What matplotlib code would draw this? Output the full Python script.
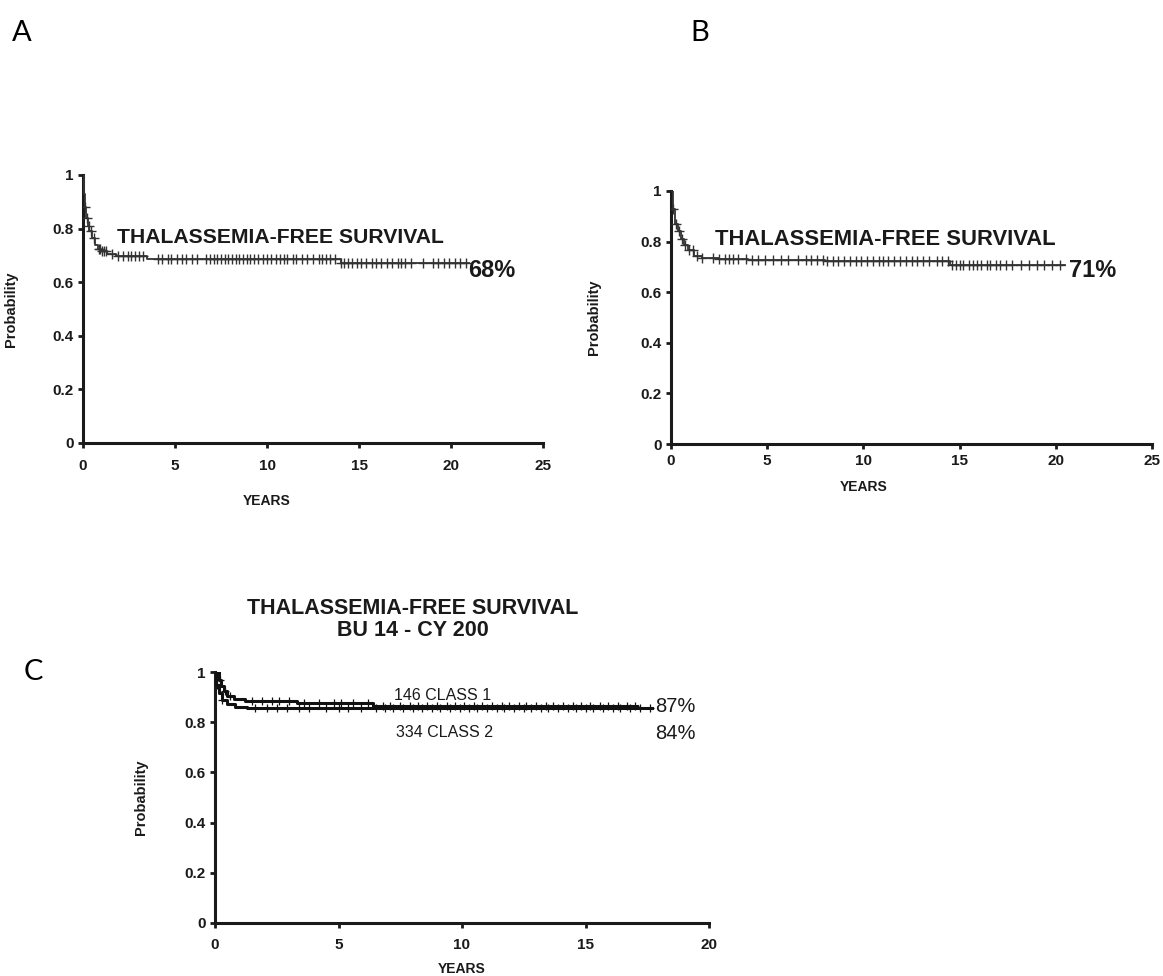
import matplotlib
matplotlib.use("Agg")
import matplotlib.pyplot as plt
import numpy as np

plt.rcParams['font.family'] = ['Liberation Sans', 'DejaVu Sans']

# ---------------- Data ----------------
# Panel A: thalassemia-free survival
A_time = [0, 0.05, 0.1, 0.15, 0.25, 0.35, 0.5, 0.65, 0.8, 1.0, 1.3, 1.8, 3.5, 14.0, 21.0]
A_surv = [1.0, 0.93, 0.88, 0.84, 0.81, 0.79, 0.765, 0.74, 0.725, 0.715, 0.705, 0.697, 0.686, 0.672, 0.672]
A_censor = [0.1, 0.2, 0.3, 0.45, 0.6, 0.85, 0.95, 1.05, 1.15, 1.25, 1.6, 1.9, 2.2, 2.45, 2.6,
            2.8, 3.05, 3.25, 4.1, 4.3, 4.6, 4.8, 5.1, 5.4, 5.6, 5.9, 6.2, 6.7, 6.9, 7.1, 7.3,
            7.5, 7.7, 7.9, 8.1, 8.3, 8.5, 8.7, 8.9, 9.1, 9.3, 9.5, 9.8, 10.0, 10.2, 10.5, 10.7,
            10.9, 11.1, 11.4, 11.6, 11.9, 12.2, 12.5, 12.8, 13.0, 13.2, 13.4, 13.7, 14.0, 14.2,
            14.4, 14.6, 14.9, 15.1, 15.4, 15.7, 15.9, 16.2, 16.5, 16.8, 17.1, 17.3, 17.5, 17.8,
            18.5, 19.0, 19.3, 19.6, 19.9, 20.2, 20.5, 20.8]
A_label = "68%"

# Panel B
B_time = [0, 0.08, 0.2, 0.35, 0.5, 0.7, 0.9, 1.2, 1.6, 2.5, 4.0, 8.0, 14.5, 20.5]
B_surv = [1.0, 0.93, 0.87, 0.84, 0.81, 0.785, 0.765, 0.745, 0.737, 0.73, 0.727, 0.722, 0.708, 0.708]
B_censor = [0.12, 0.25, 0.4, 0.55, 0.75, 0.95, 1.15, 1.35, 1.6, 2.2, 2.5, 2.8, 3.0, 3.2, 3.5,
            3.9, 4.2, 4.5, 4.9, 5.3, 5.7, 6.1, 6.6, 7.0, 7.3, 7.6, 7.9, 8.1, 8.4, 8.7, 9.0,
            9.3, 9.6, 9.9, 10.2, 10.5, 10.8, 11.0, 11.3, 11.6, 11.9, 12.2, 12.5, 12.8, 13.1,
            13.4, 13.8, 14.1, 14.4, 14.6, 14.8, 15.0, 15.2, 15.5, 15.7, 15.9, 16.1, 16.4,
            16.6, 16.9, 17.1, 17.4, 17.7, 18.2, 18.6, 19.0, 19.4, 19.8, 20.2]
B_label = "71%"

# Panel C: BU 14 - CY 200, two risk classes
C1_time = [0, 0.15, 0.25, 0.35, 0.5, 0.75, 1.2, 3.3, 6.4, 17.1]
C1_surv = [1.0, 0.97, 0.945, 0.925, 0.905, 0.893, 0.885, 0.876, 0.866, 0.866]
C1_censor = [0.2, 0.4, 0.6, 1.5, 1.9, 2.3, 2.6, 3.0, 3.6, 4.2, 4.8, 5.1, 5.6, 6.2, 6.8,
             7.1, 7.5, 7.9, 8.2, 8.6, 9.0, 9.4, 9.7, 10.1, 10.5, 10.8, 11.2, 11.6, 11.9,
             12.3, 12.6, 13.0, 13.4, 13.7, 14.1, 14.5, 14.8, 15.2, 15.6, 15.9, 16.3, 16.7, 17.0]
C2_time = [0, 0.05, 0.15, 0.3, 0.5, 0.8, 1.3, 17.7]
C2_surv = [1.0, 0.95, 0.915, 0.89, 0.872, 0.862, 0.855, 0.855]
C2_censor = [0.1, 0.3, 1.6, 2.1, 2.5, 2.9, 3.4, 3.8, 4.5, 5.0, 5.4, 5.9, 6.5, 6.9, 7.2, 7.6,
             8.0, 8.4, 8.8, 9.1, 9.5, 9.9, 10.3, 10.6, 11.0, 11.4, 11.7, 12.1, 12.5, 12.8,
             13.2, 13.5, 13.9, 14.3, 14.6, 15.0, 15.3, 15.7, 16.1, 16.4, 16.8, 17.2, 17.6]
C1_label = "146 CLASS 1"
C2_label = "334 CLASS 2"
C1_pct = "87%"
C2_pct = "84%"

TITLE = "THALASSEMIA-FREE SURVIVAL"
C_TITLE = "THALASSEMIA-FREE SURVIVAL\nBU 14 - CY 200"

# ---------------- Figure ----------------
fig = plt.figure(figsize=(11.63, 9.76), dpi=100)

INK = '#1a1a1a'


def km(ax, t, s, censor, color, lw, ms, mew):
    t = np.asarray(t)
    s = np.asarray(s)
    ax.step(t, s, where='post', color=color, lw=lw, zorder=3)
    cs = [s[np.searchsorted(t, c, side='right') - 1] for c in censor]
    ax.plot(censor, cs, linestyle='none', marker='+', color=color, ms=ms, mew=mew, zorder=4)


def style(ax, xmax, xstep, xpad):
    for sp in ['top', 'right']:
        ax.spines[sp].set_visible(False)
    for sp in ['left', 'bottom']:
        ax.spines[sp].set_linewidth(2.2)
        ax.spines[sp].set_color(INK)
    ax.set_xlim(0, xmax)
    ax.set_ylim(0, 1)
    ax.set_xticks(np.arange(0, xmax + 0.1, xstep))
    ax.set_yticks([0, 0.2, 0.4, 0.6, 0.8, 1])
    ax.set_yticklabels(['0', '0.2', '0.4', '0.6', '0.8', '1'])
    ax.tick_params(axis='both', direction='out', length=3.5, width=2, color=INK,
                   labelsize=11, labelcolor=INK)
    ax.tick_params(axis='x', pad=xpad)
    ax.tick_params(axis='y', pad=3)
    for lab in ax.get_xticklabels() + ax.get_yticklabels():
        lab.set_fontweight('bold')
    ax.patch.set_alpha(0)


# Panel A
axA = fig.add_axes([83 / 1163, 1 - 443 / 976, 460 / 1163, 268 / 976])
style(axA, 25, 5, 8)
km(axA, A_time, A_surv, A_censor, '#333333', 1.3, 7, 1.0)
axA.text(1.85, 0.768, TITLE, fontsize=15.2, fontweight='bold', color=INK, va='center', ha='left')
axA.text(20.95, 0.645, A_label, fontsize=17, fontweight='bold', color=INK, va='center', ha='left')
axA.set_ylabel('Probability', fontsize=10.5, fontweight='bold', color=INK)
axA.yaxis.set_label_coords(-0.141, 0.5)
axA.set_xlabel('YEARS', fontsize=10, fontweight='bold', color=INK)
axA.xaxis.set_label_coords(0.4, -0.19)

# Panel B
axB = fig.add_axes([671 / 1163, 1 - 444 / 976, 481 / 1163, 253 / 976])
style(axB, 25, 5, 4)
km(axB, B_time, B_surv, B_censor, '#333333', 1.3, 7, 1.0)
axB.text(2.3, 0.81, TITLE, fontsize=15.8, fontweight='bold', color=INK, va='center', ha='left')
axB.text(20.7, 0.686, B_label, fontsize=17, fontweight='bold', color=INK, va='center', ha='left')
axB.set_ylabel('Probability', fontsize=10.5, fontweight='bold', color=INK)
axB.yaxis.set_label_coords(-0.146, 0.5)
axB.set_xlabel('YEARS', fontsize=10, fontweight='bold', color=INK)
axB.xaxis.set_label_coords(0.4, -0.142)

# Panel C
axC = fig.add_axes([215 / 1163, 1 - 923 / 976, 494 / 1163, 251 / 976])
style(axC, 20, 5, 7)
km(axC, C1_time, C1_surv, C1_censor, '#111111', 2.2, 6, 0.9)
km(axC, C2_time, C2_surv, C2_censor, '#111111', 2.2, 6, 0.9)
axC.text(9.2, 0.908, C1_label, fontsize=11.5, color=INK, va='center', ha='center')
axC.text(9.3, 0.759, C2_label, fontsize=11.5, color=INK, va='center', ha='center')
axC.text(17.8, 0.862, C1_pct, fontsize=14.5, color=INK, va='center', ha='left')
axC.text(17.8, 0.754, C2_pct, fontsize=14.5, color=INK, va='center', ha='left')
axC.text(8.0, 1.21, C_TITLE, fontsize=15.5, fontweight='bold', color=INK, va='center',
         ha='center', linespacing=1.05, clip_on=False)
axC.set_ylabel('Probability', fontsize=10.5, fontweight='bold', color=INK)
axC.yaxis.set_label_coords(-0.136, 0.5)
axC.set_xlabel('YEARS', fontsize=10, fontweight='bold', color=INK)
axC.xaxis.set_label_coords(0.5, -0.155)

# Panel letters
fig.text(22 / 1163, 1 - 33 / 976, 'A', fontsize=21, family=['Lato', 'DejaVu Sans'], va='center', ha='center')
fig.text(700 / 1163, 1 - 33 / 976, 'B', fontsize=21, family=['Lato', 'DejaVu Sans'], va='center', ha='center')
fig.text(33 / 1163, 1 - 672 / 976, 'C', fontsize=21, family=['Lato', 'DejaVu Sans'], va='center', ha='center')

fig.savefig('out.png', dpi=100)
